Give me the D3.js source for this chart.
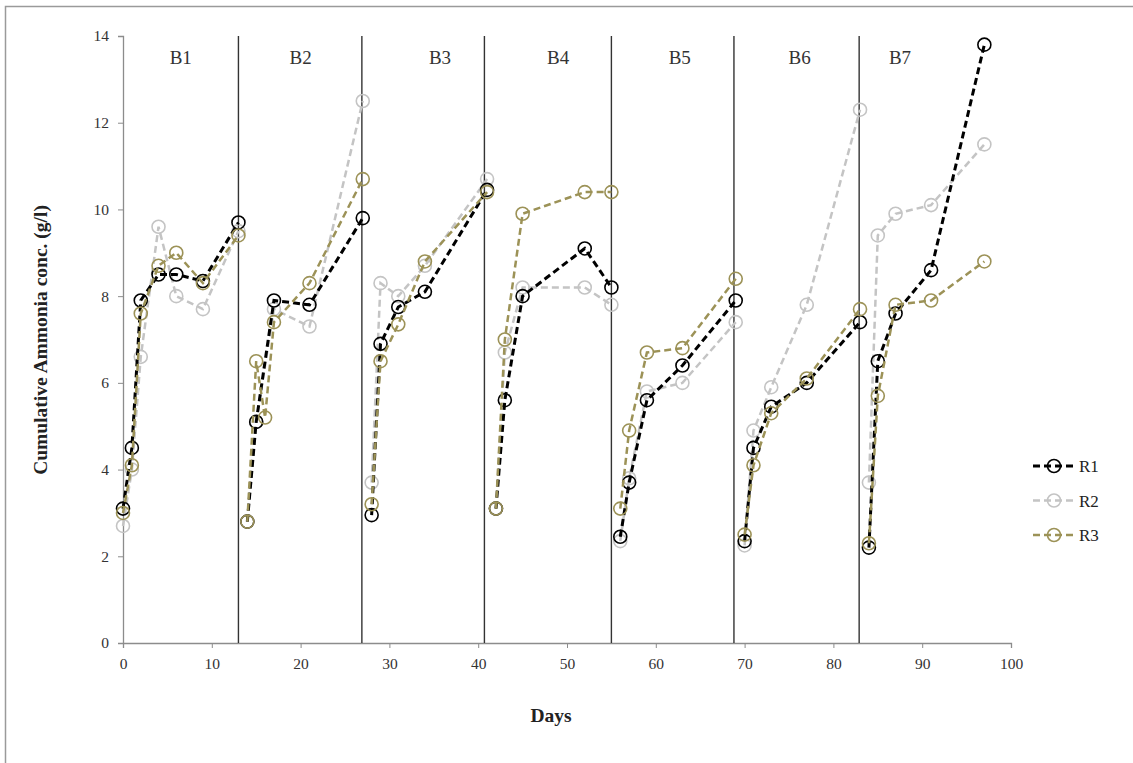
<!DOCTYPE html>
<html>
<head>
<meta charset="utf-8">
<script src="https://cdn.jsdelivr.net/npm/d3@7"></script>
<style>
  body { margin: 0; background: #fff; }
  text { font-family: 'Liberation Serif', 'Times New Roman', serif; }
</style>
</head>
<body>
<svg id="chart"></svg>
<script>
const W = 1133
const H = 763
const margin = { top: 36, left: 123, right: 122, bottom: 120 }

// batch labels and where they sit (days)
const batches = ['B1', 'B2', 'B3', 'B4', 'B5', 'B6', 'B7']
const batchLabelDay = [6.5, 20, 35.7, 49, 62.7, 76.2, 87.5]
const separatorDays = [13, 26.9, 40.7, 55, 68.8, 82.9]

// sampling days per batch
const batchDays = [
	[0, 1, 2, 4, 6, 9, 13],
	[14, 15, 16, 17, 21, 27],
	[28, 29, 31, 34, 41],
	[42, 43, 45, 52, 55],
	[56, 57, 59, 63, 69],
	[70, 71, 73, 77, 83],
	[84, 85, 87, 91, 97]
]

// cumulative ammonia (g/l), null = no reading
const r1 = [
	[3.1, 4.5, 7.9, 8.5, 8.5, 8.35, 9.7],
	[2.8, 5.1, null, 7.9, 7.8, 9.8],
	[2.95, 6.9, 7.75, 8.1, 10.45],
	[3.1, 5.6, 8.0, 9.1, 8.2],
	[2.45, 3.7, 5.6, 6.4, 7.9],
	[2.35, 4.5, 5.45, 6.0, 7.4],
	[2.2, 6.5, 7.6, 8.6, 13.8]
]
const r2 = [
	[2.7, 4.0, 6.6, 9.6, 8.0, 7.7, 9.5],
	[2.8, 5.1, null, 7.7, 7.3, 12.5],
	[3.7, 8.3, 8.0, 8.7, 10.7],
	[3.1, 6.7, 8.2, 8.2, 7.8],
	[2.35, 3.8, 5.8, 6.0, 7.4],
	[2.25, 4.9, 5.9, 7.8, 12.3],
	[3.7, 9.4, 9.9, 10.1, 11.5]
]
const r3 = [
	[3.0, 4.1, 7.6, 8.7, 9.0, 8.3, 9.4],
	[2.8, 6.5, 5.2, 7.4, 8.3, 10.7],
	[3.2, 6.5, 7.35, 8.8, 10.4],
	[3.1, 7.0, 9.9, 10.4, 10.4],
	[3.1, 4.9, 6.7, 6.8, 8.4],
	[2.5, 4.1, 5.3, 6.1, 7.7],
	[2.3, 5.7, 7.8, 7.9, 8.8]
]

const seriesNames = ['R1', 'R2', 'R3']
const seriesValues = [r1, r2, r3]
const seriesColors = ['#000000', '#c4c4c4', '#9c9257']
const seriesWidths = [3, 2.5, 2.5]
const drawOrder = [1, 0, 2]

const xTicks = [0, 10, 20, 30, 40, 50, 60, 70, 80, 90, 100]
const yTicks = [0, 2, 4, 6, 8, 10, 12, 14]

const width = W - margin.left - margin.right
const height = H - margin.top - margin.bottom

const svg = d3.select('#chart').attr('width', W).attr('height', H)

// outer frame (only top/left edges show in the shot)
svg.append('rect')
	.attr('x', 5.5).attr('y', 6.5)
	.attr('width', W + 20).attr('height', H + 20)
	.attr('fill', 'none')
	.attr('stroke', '#9a9a9a')
	.attr('stroke-width', 1.5)

const g = svg.append('g').attr('transform', `translate(${margin.left},${margin.top})`)

const x = d3.scaleLinear().domain([0, 100]).range([0, width])
const y = d3.scaleLinear().domain([0, 14]).range([height, 0])

// axes
const yAxis = g.append('g').call(d3.axisLeft(y).tickValues(yTicks).tickSize(5).tickPadding(9))
const xAxis = g.append('g').attr('transform', `translate(0,${height})`)
	.call(d3.axisBottom(x).tickValues(xTicks).tickSize(5).tickPadding(10))

for (const ax of [xAxis, yAxis]) {
	ax.select('.domain').attr('stroke', '#8c8c8c').attr('stroke-width', 1.3)
	ax.selectAll('.tick line').attr('stroke', '#8c8c8c')
	ax.selectAll('.tick text')
		.attr('fill', '#333')
		.style('font-size', '15.5px')
		.style('font-family', "'Liberation Serif', serif")
}

// batch separators
g.selectAll('.sep')
	.data(separatorDays)
	.enter()
	.append('line')
	.attr('x1', d => x(d)).attr('x2', d => x(d))
	.attr('y1', 0).attr('y2', height)
	.attr('stroke', '#333')
	.attr('stroke-width', 1.4)

g.selectAll('.blabel')
	.data(batches)
	.enter()
	.append('text')
	.attr('x', (d, i) => x(batchLabelDay[i]))
	.attr('y', 28)
	.attr('text-anchor', 'middle')
	.attr('fill', '#333')
	.style('font-size', '19px')
	.text(d => d)

const line = d3.line().x(d => x(d[0])).y(d => y(d[1]))

drawOrder.forEach(s => {
	const sg = g.append('g')
	seriesValues[s].forEach((vals, b) => {
		const pts = batchDays[b]
			.map((day, k) => [day, vals[k]])
			.filter(p => p[1] != null)
		sg.append('path')
			.datum(pts)
			.attr('d', line)
			.attr('fill', 'none')
			.attr('stroke', seriesColors[s])
			.attr('stroke-width', seriesWidths[s])
			.attr('stroke-dasharray', '7,4')
		sg.selectAll(null)
			.data(pts)
			.enter()
			.append('circle')
			.attr('cx', d => x(d[0]))
			.attr('cy', d => y(d[1]))
			.attr('r', 6.5)
			.attr('fill', 'none')
			.attr('stroke', seriesColors[s])
			.attr('stroke-width', 1.6)
	})
})

// axis titles
svg.append('text')
	.attr('transform', 'translate(47,340) rotate(-90)')
	.attr('text-anchor', 'middle')
	.attr('font-weight', 'bold')
	.attr('fill', '#222')
	.style('font-size', '19.5px')
	.text('Cumulative Ammonia conc. (g/l)')

svg.append('text')
	.attr('x', 551).attr('y', 722)
	.attr('text-anchor', 'middle')
	.attr('font-weight', 'bold')
	.attr('fill', '#222')
	.style('font-size', '19.5px')
	.text('Days')

// legend
const legend = svg.append('g').attr('transform', 'translate(1033,466)')
seriesNames.forEach((name, i) => {
	const row = legend.append('g').attr('transform', `translate(0,${i * 34.5})`)
	row.append('line')
		.attr('x1', 0).attr('x2', 42)
		.attr('stroke', seriesColors[i])
		.attr('stroke-width', seriesWidths[i])
		.attr('stroke-dasharray', '7,4')
	row.append('circle')
		.attr('cx', 21).attr('r', 6.5)
		.attr('fill', 'none')
		.attr('stroke', seriesColors[i])
		.attr('stroke-width', 1.6)
	row.append('text')
		.attr('x', 46).attr('y', 6)
		.attr('fill', '#222')
		.style('font-size', '17px')
		.text(name)
})
</script>
</body>
</html>
